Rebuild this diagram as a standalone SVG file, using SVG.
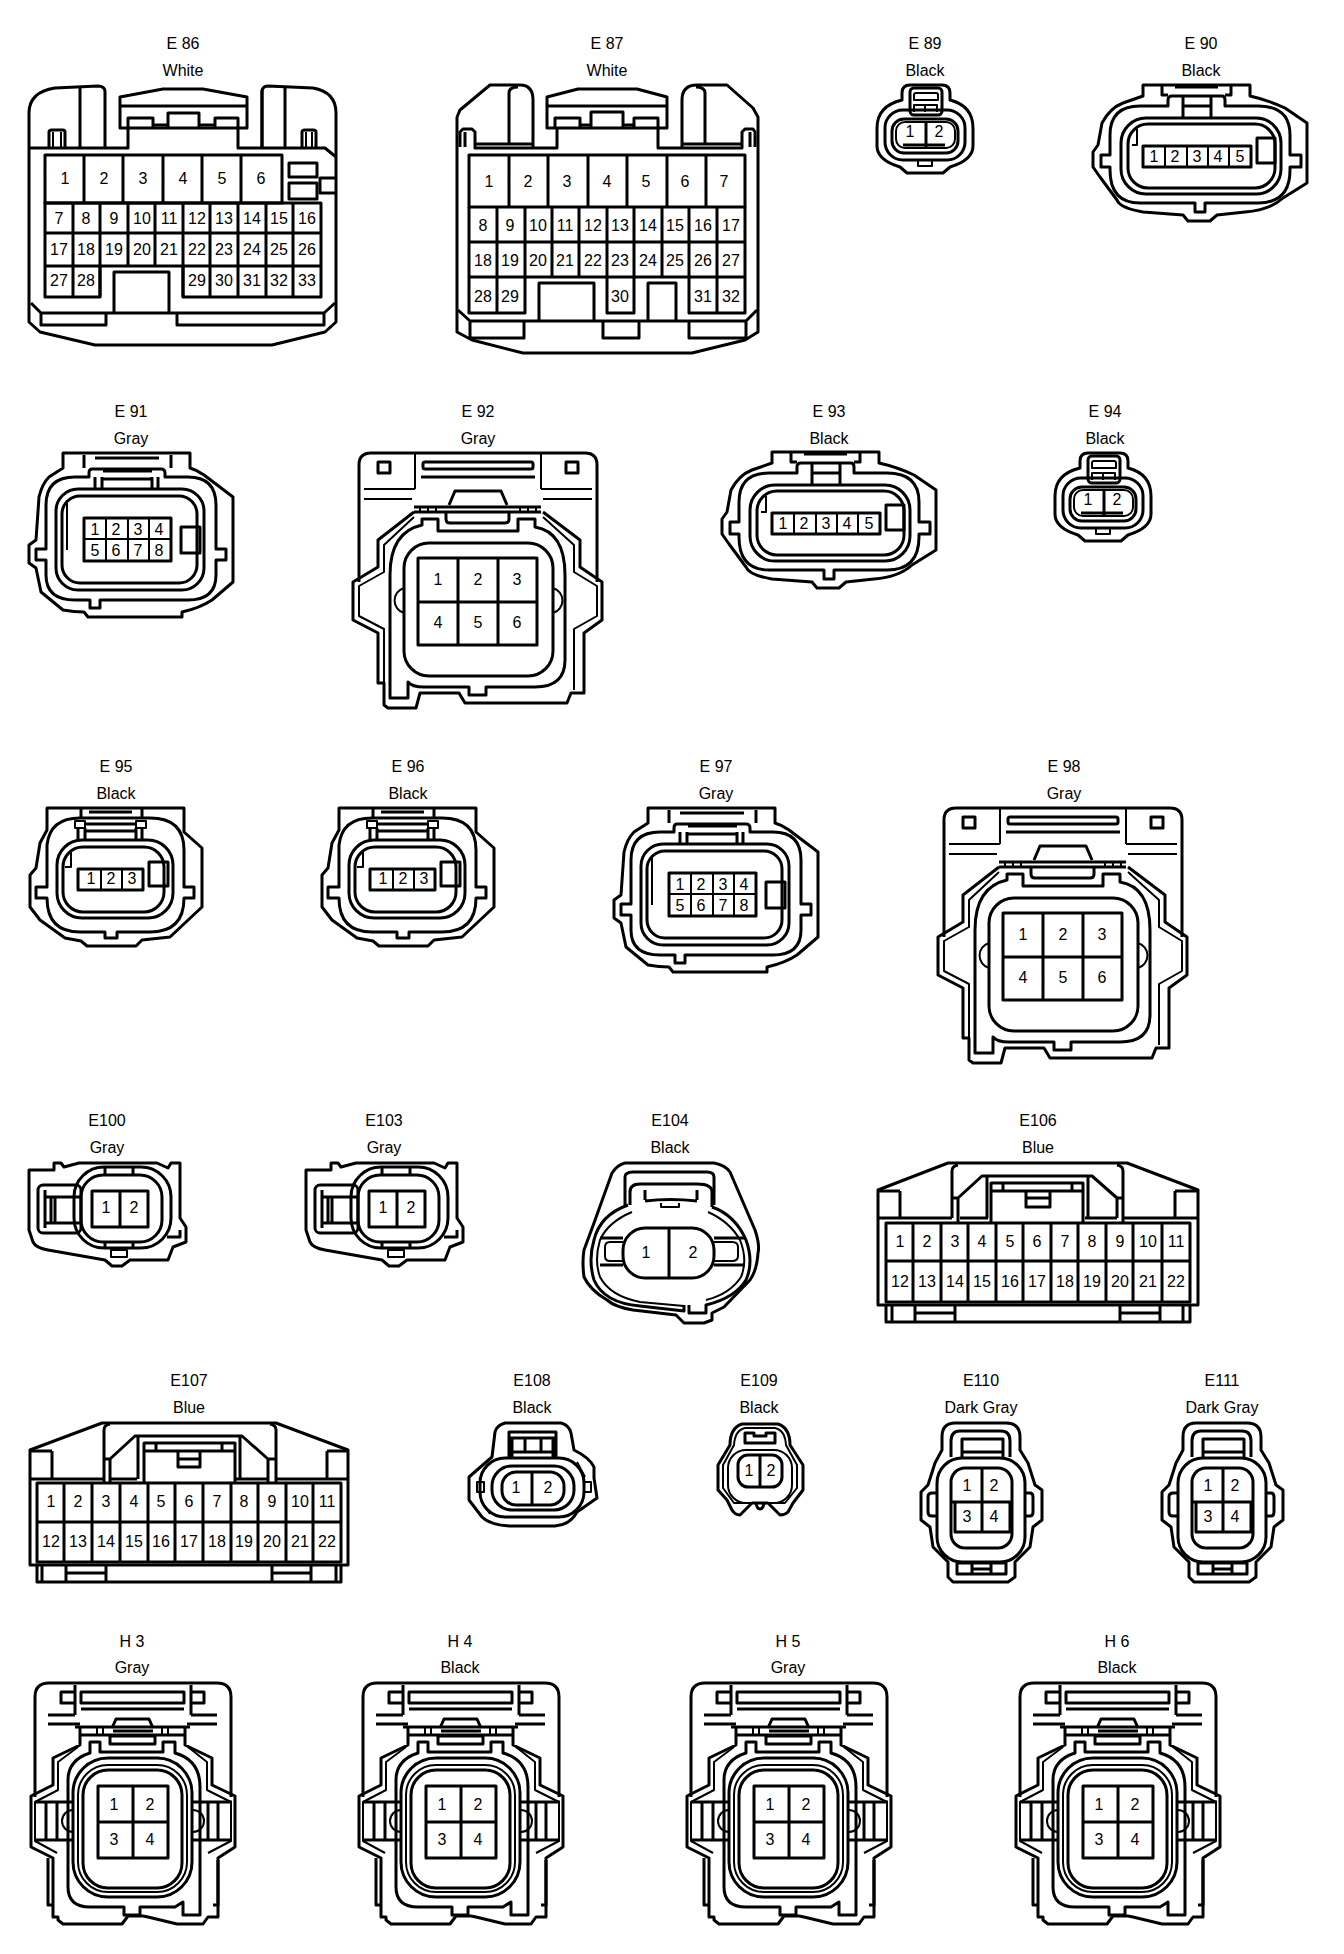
<svg xmlns="http://www.w3.org/2000/svg" width="1344" height="1954" viewBox="0 0 1344 1954">
<style>
path,rect,circle{fill:none;stroke:#000;stroke-width:3;stroke-linejoin:round}
.n{stroke-width:2}
text{font-family:"Liberation Sans",Arial,sans-serif;font-size:16px;fill:#000;text-anchor:middle}
#bg{fill:#fff;stroke:none}
</style>
<defs>
<g id="s89">
<path d="M902,100V93Q902,85 910,85H942Q950,85 950,93V100Q973,106 973,128V146Q973,160 950,167L943,173H907L900,167Q877,160 877,146V128Q877,106 902,100Z"/>
<rect x="885" y="110" width="80" height="50" rx="18"/>
<rect x="892" y="119" width="66" height="34" rx="12"/>
<rect class="n" x="896" y="122" width="59" height="26" rx="9"/>
<path d="M903,145H945" />
<path d="M926,122V148"/>
<rect x="910" y="88" width="32" height="27" rx="4"/>
<path class="n" d="M914,100V95Q914,93 916,93H936Q938,93 938,95V100ZM914,112V105H925V112M937,112V105H925"/>
<path class="n" d="M918,160V166H932V160"/>
</g>
<g id="s90">
<path d="M1143,96V85H1250V96Q1268,100 1285,108L1307,123V183L1283,198Q1270,210 1245,212L1217,215L1210,221H1188L1183,215L1143,212Q1120,208 1117,200L1100,177L1093,167V152L1098,145L1102,123Q1110,108 1123,103L1143,96Z"/>
<path d="M1162,85V95H1168M1231,85V95H1225"/>
<path d="M1175,87H1218"/>
<path d="M1110,135Q1110,106 1140,106H1168V100Q1168,96 1172,96H1222Q1225,96 1225,100V106H1258Q1290,106 1290,135V155H1301V167H1290V170Q1290,203 1258,203H1205V212H1195V203H1140Q1110,203 1110,170V167H1101V155H1110Z"/>
<rect x="1121" y="118" width="160" height="76" rx="25"/>
<rect x="1128" y="124" width="147" height="64" rx="20"/>
<path d="M1183,96V117M1211,96V117M1183,106H1211"/>
<path class="n" d="M1132,145H1137V129"/>
<rect x="1257" y="138" width="18" height="25"/>
<rect x="1143" y="146" width="108" height="21"/>
<path class="n" d="M1165,146V167M1187,146V167M1208,146V167M1229,146V167"/>
</g>
<g id="s91">
<path d="M63,468V453H190V468Q197,470 204,475L233,497V582L212,600Q200,608 182,612V617H88L84,612Q74,612 63,610L41,592L36,568L29,563V545L36,540L39,497Q42,484 49,477Z"/>
<path d="M84,455V468M171,455V468M95,458H159"/>
<path d="M46,505Q46,477 75,477H89V473Q89,469 92,469H161Q165,469 165,473V477H188Q216,477 216,505V549H226V560H216V575Q216,600 188,600H100V608H90V600H75Q46,600 46,575V560H36V549H46Z"/>
<rect x="56" y="489" width="148" height="101" rx="22"/>
<rect x="62" y="496" width="135" height="87" rx="18"/>
<path class="n" d="M67,500V550"/>
<path d="M95,477V488M102,477V488M152,477V488M158,477V488M103,471H152M103,479H152"/>
<rect x="181" y="527" width="19" height="26"/>
<rect x="84" y="518" width="87" height="43"/>
<path class="n" d="M106,518V561M128,518V561M149,518V561M84,539H171"/>
</g>
<g id="s92">
<path d="M359,582V465Q359,453 371,453H585Q597,453 597,465V582"/>
<path class="n" d="M415,453V489M541,453V489M364,489H415M541,489H592M364,499H412M543,499H592"/>
<rect x="378" y="462" width="12" height="11"/>
<rect x="566" y="462" width="12" height="11"/>
<rect x="423" y="462" width="110" height="7" rx="2"/>
<path d="M421,477H535"/>
<path d="M449,505L455,491H501L507,505"/>
<path d="M414,507H541M414,512H541"/>
<path class="n" d="M420,507V512M428,507V512M436,507V512M520,507V512M528,507V512M536,507V512"/>
<path d="M446,512V519Q446,523 450,523H505Q509,523 509,519V512"/>
<path d="M414,512L378,540V567L353,582V620L378,633V683H384V705L388,708H416L420,693H459L465,703H567L571,693H584V633L602,620V582L580,567V540L543,512"/>
<path class="n" d="M414,517L384,545V572L359,586V616L384,629V690M543,517L574,545V572L597,586V616L574,629V690"/>
<path d="M422,525V519H438V531H518V519H535V527Q565,532 565,575V660Q565,687 535,687H486V695H469V687H424Q412,687 408,682V698H390V575Q390,532 422,525Z"/>
<rect x="404" y="543" width="149" height="133" rx="25"/>
<path class="n" d="M404,588A13,13 0 0 0 404,613M553,588A13,13 0 0 1 553,613"/>
<rect x="418" y="558" width="119" height="87"/>
<path d="M458,558V645M498,558V645M418,602H537"/>
</g>
<g id="s95">
<path d="M47,830V808H184V832L202,848V907L186,922L170,937L142,940L136,946H87L81,941L65,938L40,920L30,907V875L36,868L40,843Z"/>
<path d="M47,845Q50,818 80,818H150Q184,818 184,850V887H194V898H184Q184,932 150,932H117V938H105V932H80Q47,932 47,898H36V887H47Z"/>
<rect x="57" y="840" width="116" height="78" rx="25"/>
<rect x="63" y="847" width="101" height="65" rx="20"/>
<path d="M81,808V818M142,808V818M78,828V839M85,828V839M136,828V839M142,828V839M86,824H136M86,831H136M89,812H132"/>
<rect class="n" x="75" y="821" width="10" height="7"/>
<rect class="n" x="136" y="821" width="10" height="7"/>
<path class="n" d="M65,867H71V852"/>
<rect x="149" y="862" width="19" height="24"/>
<rect x="78" y="869" width="65" height="21"/>
<path class="n" d="M101,869V890M122,869V890"/>
</g>
<g id="s100">
<path d="M29,1170H54V1163H61L64,1167L79,1163H157L168,1168L171,1163H180V1218L186,1227V1242L173,1247L168,1260H130L122,1266H112L105,1260L48,1250Q36,1248 33,1242L29,1230Z"/>
<rect x="74" y="1167" width="97" height="81" rx="30"/>
<rect x="81" y="1175" width="81" height="67" rx="22"/>
<rect x="38" y="1185" width="43" height="48" rx="5"/>
<path d="M45,1190V1228M51,1197V1223M45,1197H80M45,1223H80"/>
<path d="M55,1197V1222M105,1168V1175M133,1168V1175M105,1242V1247M133,1242V1247"/>
<rect class="n" x="111" y="1250" width="16" height="7"/>
<path d="M167,1237H180V1230"/>
<rect x="92" y="1191" width="56" height="36"/>
<path d="M120,1191V1227"/>
</g>
<g id="s110">
<path d="M942,1450V1437Q942,1423 955,1423H1006Q1020,1423 1020,1437V1450L1028,1463L1035,1485L1042,1490V1520L1033,1527L1030,1547L1015,1562V1577L1008,1582H953L948,1577V1562L933,1547L930,1527L921,1520V1492L928,1485L935,1463Z"/>
<rect x="937" y="1458" width="88" height="104" rx="25"/>
<rect x="951" y="1468" width="61" height="80" rx="14"/>
<path d="M951,1457V1441Q951,1431 960,1431H1001Q1010,1431 1010,1441V1457"/>
<path d="M951,1502H1012M955,1502V1532H1010V1502M982,1468V1532"/>
<path d="M962,1457V1439H1003V1457M962,1452H1003"/>
<path d="M936,1493H932Q928,1493 928,1497V1512Q928,1516 932,1516H936M1026,1493H1030Q1033,1493 1033,1497V1512Q1033,1516 1030,1516H1026"/>
<rect x="957" y="1563" width="49" height="11"/>
<path d="M972,1563V1574M991,1563V1574M972,1569H991"/>
</g>
<g id="sh3">
<path d="M35,1797V1697Q35,1683 49,1683H217Q231,1683 231,1697V1797"/>
<path d="M75,1685V1715M191,1685V1715M48,1715H75M191,1715H217M48,1724H80M187,1724H217"/>
<path d="M75,1692H61V1703H75M191,1692H204V1703H191"/>
<rect x="81" y="1692" width="103" height="11"/>
<path d="M81,1709H184"/>
<path d="M112,1728L116,1719H149L153,1728"/>
<path d="M75,1727H190M113,1731H153"/>
<rect x="110" y="1736" width="45" height="8"/>
<path class="n" d="M97,1727V1735M103,1727V1735M162,1727V1735M168,1727V1735"/>
<path d="M80,1735H185"/>
<path d="M80,1727V1745L53,1758V1785L31,1796V1847L53,1858V1917H58V1920L63,1924H122L128,1916H143L148,1917L177,1924H203L208,1917H218V1858L235,1847V1796L212,1785V1758L185,1745V1727"/>
<path class="n" d="M78,1747L58,1762V1790L35,1802V1841L57,1853M188,1747L207,1762V1790L231,1802V1841L208,1853"/>
<path d="M35,1802H73M193,1802H232M35,1840H73M193,1840H232M46,1802V1840M57,1802V1840M208,1802V1840M218,1802V1840M48,1858V1905H53M218,1860V1905H213"/>
<path d="M90,1753V1742H100V1752H163V1742H175V1753Q200,1760 200,1787V1915H183V1902L175,1907H140V1915H124V1907H90Q68,1907 68,1887V1780Q68,1760 90,1753Z"/>
<rect x="73" y="1758" width="119" height="139" rx="35"/>
<rect class="n" x="78" y="1765" width="109" height="127" rx="30"/>
<rect x="83" y="1770" width="99" height="118" rx="25"/>
<rect x="98" y="1786" width="70" height="72"/>
<path d="M133,1786V1858M98,1822H168"/>
<path class="n" d="M73,1810A11,11 0 0 0 73,1832M193,1810A11,11 0 0 1 193,1832"/>
</g>
</defs>
<rect id="bg" x="0" y="0" width="1344" height="1954"/>
<g id="e86">
<text x="183" y="49">E 86</text><text x="183" y="76">White</text>
<path d="M29,113V322L40,332L95,345H272L325,332L336,322V113Q336,92 313,88L268,86Q262,86 262,92V148M29,113Q29,92 55,88L98,86Q105,86 105,92V148"/>
<path d="M29,148H128V128M80,86V148M49,148V132Q49,130 52,130H63Q65,130 65,132V148"/>
<path class="n" d="M53,132V148M61,132V148M306,132V148M312,132V148"/>
<path d="M238,128V148H325L336,157M262,90V148M285,86V148M302,148V132Q302,130 305,130H313Q316,130 316,132V148"/>
<path d="M120,128V97L163,89H203L247,97V128ZM120,106H247"/>
<path d="M128,128V118H153V128M168,128V113H199V128M215,128V118H238V128M153,125H168M199,125H215"/>
<rect x="45" y="155" width="237" height="48"/>
<path d="M84,155V203M123,155V203M163,155V203M202,155V203M241,155V203"/>
<text x="65" y="184">1</text><text x="104" y="184">2</text><text x="143" y="184">3</text><text x="183" y="184">4</text><text x="222" y="184">5</text><text x="261" y="184">6</text>
<path d="M45,203H321V297H183V266H100V297H45ZM45,233H321M45,266H100M183,266H321"/>
<path d="M73,203V297M100,203V297M128,203V266M155,203V266M183,203V297M210,203V297M238,203V297M266,203V297M293,203V297"/>
<text x="59" y="224">7</text><text x="86" y="224">8</text><text x="114" y="224">9</text><text x="142" y="224">10</text><text x="169" y="224">11</text><text x="197" y="224">12</text><text x="224" y="224">13</text><text x="252" y="224">14</text><text x="279" y="224">15</text><text x="307" y="224">16</text>
<text x="59" y="255">17</text><text x="86" y="255">18</text><text x="114" y="255">19</text><text x="142" y="255">20</text><text x="169" y="255">21</text><text x="197" y="255">22</text><text x="224" y="255">23</text><text x="252" y="255">24</text><text x="279" y="255">25</text><text x="307" y="255">26</text>
<text x="59" y="286">27</text><text x="86" y="286">28</text><text x="197" y="286">29</text><text x="224" y="286">30</text><text x="252" y="286">31</text><text x="279" y="286">32</text><text x="307" y="286">33</text>
<path d="M114,313V272H169V313"/>
<path d="M31,303L41,313H324L335,303M41,313V325H106V313M177,313V325H324V313"/>
<rect x="289" y="163" width="28" height="14"/><rect x="289" y="183" width="28" height="16"/>
<path d="M336,178H320V193H336"/>
</g>
<g id="e87">
<text x="607" y="49">E 87</text><text x="607" y="76">White</text>
<path d="M457,117V332L472,340L523,353H692L745,340L758,332V117L753,108L727,85H697Q682,85 682,100V148M457,117L460,110L490,85H520Q533,85 533,100V148"/>
<path d="M460,147V132L463,129H472L475,132V148H557V128M465,132V147M658,128V148H742V132L745,129H753L755,132V147M750,132V147"/>
<path d="M475,144H533M682,144H742M509,144V93Q509,87 518,87M705,144V93Q705,87 696,87"/>
<path d="M547,128V97L578,89H637L667,97V128ZM547,106H667"/>
<path d="M555,128V118H580V128M591,128V112H623V128M634,128V118H658V128M580,125H591M623,125H634"/>
<rect x="469" y="155" width="276" height="52"/>
<path d="M509,155V207M548,155V207M588,155V207M627,155V207M667,155V207M706,155V207"/>
<text x="489" y="187">1</text><text x="528" y="187">2</text><text x="567" y="187">3</text><text x="607" y="187">4</text><text x="646" y="187">5</text><text x="685" y="187">6</text><text x="724" y="187">7</text>
<path d="M469,207V313H525V277H607V313H634V277H689V313H745V207M469,242H745M469,277H745M497,207V313M717,207V313M525,207V277M552,207V277M579,207V277M607,207V277M634,207V277M662,207V277M689,207V277"/>
<text x="483" y="231">8</text><text x="510" y="231">9</text><text x="538" y="231">10</text><text x="565" y="231">11</text><text x="593" y="231">12</text><text x="620" y="231">13</text><text x="648" y="231">14</text><text x="675" y="231">15</text><text x="703" y="231">16</text><text x="731" y="231">17</text>
<text x="483" y="266">18</text><text x="510" y="266">19</text><text x="538" y="266">20</text><text x="565" y="266">21</text><text x="593" y="266">22</text><text x="620" y="266">23</text><text x="648" y="266">24</text><text x="675" y="266">25</text><text x="703" y="266">26</text><text x="731" y="266">27</text>
<text x="483" y="302">28</text><text x="510" y="302">29</text><text x="620" y="302">30</text><text x="703" y="302">31</text><text x="731" y="302">32</text>
<path d="M539,320V283H594V320M648,320V283H676V320"/>
<path d="M458,310L470,321H746L757,310M470,321V338H524V321M603,321V338H639V321M689,321V338H746V321"/>
</g>
<g id="e89">
<text x="925" y="49">E 89</text><text x="925" y="76">Black</text>
<use href="#s89"/>
<text x="910" y="137">1</text><text x="939" y="137">2</text>
</g>
<g id="e90">
<text x="1201" y="49">E 90</text><text x="1201" y="76">Black</text>
<use href="#s90"/>
<text x="1154" y="162">1</text><text x="1175" y="162">2</text><text x="1197" y="162">3</text><text x="1218" y="162">4</text><text x="1240" y="162">5</text>
</g>
<g id="e91">
<text x="131" y="417">E 91</text><text x="131" y="444">Gray</text>
<use href="#s91"/>
<text x="95" y="535">1</text><text x="116" y="535">2</text><text x="138" y="535">3</text><text x="159" y="535">4</text><text x="95" y="556">5</text><text x="116" y="556">6</text><text x="138" y="556">7</text><text x="159" y="556">8</text>
</g>
<g id="e92">
<text x="478" y="417">E 92</text><text x="478" y="444">Gray</text>
<use href="#s92"/>
<text x="438" y="585">1</text><text x="478" y="585">2</text><text x="517" y="585">3</text><text x="438" y="628">4</text><text x="478" y="628">5</text><text x="517" y="628">6</text>
</g>
<g id="e93">
<text x="829" y="417">E 93</text><text x="829" y="444">Black</text>
<use href="#s90" x="-371" y="367"/>
<text x="783" y="529">1</text><text x="804" y="529">2</text><text x="826" y="529">3</text><text x="847" y="529">4</text><text x="869" y="529">5</text>
</g>
<g id="e94">
<text x="1105" y="417">E 94</text><text x="1105" y="444">Black</text>
<use href="#s89" x="178" y="368"/>
<text x="1088" y="505">1</text><text x="1117" y="505">2</text>
</g>
<g id="e95">
<text x="116" y="772">E 95</text><text x="116" y="799">Black</text>
<use href="#s95"/>
<text x="91" y="884">1</text><text x="111" y="884">2</text><text x="132" y="884">3</text>
</g>
<g id="e96">
<text x="408" y="772">E 96</text><text x="408" y="799">Black</text>
<use href="#s95" x="292"/>
<text x="383" y="884">1</text><text x="403" y="884">2</text><text x="424" y="884">3</text>
</g>
<g id="e97">
<text x="716" y="772">E 97</text><text x="716" y="799">Gray</text>
<use href="#s91" x="585" y="355"/>
<text x="680" y="890">1</text><text x="701" y="890">2</text><text x="723" y="890">3</text><text x="744" y="890">4</text><text x="680" y="911">5</text><text x="701" y="911">6</text><text x="723" y="911">7</text><text x="744" y="911">8</text>
</g>
<g id="e98">
<text x="1064" y="772">E 98</text><text x="1064" y="799">Gray</text>
<use href="#s92" x="585" y="355"/>
<text x="1023" y="940">1</text><text x="1063" y="940">2</text><text x="1102" y="940">3</text><text x="1023" y="983">4</text><text x="1063" y="983">5</text><text x="1102" y="983">6</text>
</g>
<g id="e100">
<text x="107" y="1126">E100</text><text x="107" y="1153">Gray</text>
<use href="#s100"/>
<text x="106" y="1213">1</text><text x="134" y="1213">2</text>
</g>
<g id="e103">
<text x="384" y="1126">E103</text><text x="384" y="1153">Gray</text>
<use href="#s100" x="277"/>
<text x="383" y="1213">1</text><text x="411" y="1213">2</text>
</g>
<g id="e104">
<text x="670" y="1126">E104</text><text x="670" y="1153">Black</text>
<path d="M625,1163H714Q725,1165 730,1172L755,1230Q760,1245 758,1253Q757,1270 750,1280L724,1307L712,1313V1320L704,1323H684L676,1315L633,1310Q615,1307 607,1300Q590,1290 584,1277Q582,1262 584,1250L594,1223L612,1173Q617,1165 625,1163Z"/>
<path d="M625,1205V1177Q625,1172 633,1172H707Q714,1172 714,1177V1205"/>
<path d="M630,1205V1192Q630,1184 640,1184H697Q712,1184 712,1192V1207"/>
<path d="M645,1200V1190M697,1200V1190M645,1201Q670,1198 697,1201"/>
<path d="M628,1205Q600,1215 594,1240Q588,1260 594,1280Q604,1303 640,1306L684,1311V1305M712,1207Q735,1215 746,1240Q754,1262 746,1280Q735,1298 706,1305V1313H689V1305"/>
<path class="n" d="M632,1212Q608,1222 600,1240Q594,1260 600,1277Q610,1296 640,1302L684,1306M708,1212Q730,1222 740,1240Q748,1260 741,1277Q730,1294 706,1300"/>
<rect x="623" y="1228" width="91" height="50" rx="22"/>
<path d="M669,1228V1278"/>
<path d="M600,1238H623M600,1265H623M714,1238H745M714,1265H745"/>
<path class="n" d="M623,1242H610Q605,1242 605,1247V1256Q605,1261 610,1261H623M714,1242H732Q738,1242 738,1247V1256Q738,1261 732,1261H714"/>
<path class="n" d="M661,1203V1207H679V1203"/>
<text x="646" y="1258">1</text><text x="693" y="1258">2</text>
</g>
<g id="e106">
<text x="1038" y="1126">E106</text><text x="1038" y="1153">Blue</text>
<path d="M878,1190L948,1163H1127L1198,1190V1305H878Z"/>
<path d="M878,1218H952M960,1218H988M1085,1218H1117M1123,1218H1198M900,1191V1218M878,1191H900M1175,1191V1218M1175,1191H1198"/>
<path d="M952,1218V1171Q952,1166 958,1165M1123,1222V1171Q1123,1166 1117,1165M958,1222V1198L982,1176H1092L1117,1198V1218M952,1198H958M1117,1198H1123M987,1176V1218M1088,1176V1218"/>
<path d="M991,1222V1183H1083V1222M991,1191H1083M1003,1183V1191M1072,1183V1191"/>
<path d="M1026,1191V1207H1050V1191M1026,1198H1050"/>
<rect x="886" y="1223" width="304" height="79"/>
<path d="M886,1261H1190M913,1223V1302M941,1223V1302M968,1223V1302M996,1223V1302M1023,1223V1302M1051,1223V1302M1078,1223V1302M1106,1223V1302M1133,1223V1302M1162,1223V1302"/>
<text x="900" y="1247">1</text><text x="927" y="1247">2</text><text x="955" y="1247">3</text><text x="982" y="1247">4</text><text x="1010" y="1247">5</text><text x="1037" y="1247">6</text><text x="1065" y="1247">7</text><text x="1092" y="1247">8</text><text x="1120" y="1247">9</text><text x="1148" y="1247">10</text><text x="1176" y="1247">11</text>
<text x="900" y="1287">12</text><text x="927" y="1287">13</text><text x="955" y="1287">14</text><text x="982" y="1287">15</text><text x="1010" y="1287">16</text><text x="1037" y="1287">17</text><text x="1065" y="1287">18</text><text x="1092" y="1287">19</text><text x="1120" y="1287">20</text><text x="1148" y="1287">21</text><text x="1176" y="1287">22</text>
<path d="M886,1305V1322H1190V1305M892,1305V1322M915,1305V1322M955,1305V1322M1120,1305V1322M1160,1305V1322M1183,1305V1322M915,1313H955M1120,1313H1160"/>
</g>
<g id="e107">
<text x="189" y="1386">E107</text><text x="189" y="1413">Blue</text>
<path d="M30,1450L102,1423H276L348,1450V1565H30Z"/>
<path d="M30,1479H105M111,1479H137M235,1479H268M276,1479H348M52,1451V1479M30,1451H52M327,1451V1479M327,1451H348"/>
<path d="M104,1482V1430Q104,1425 110,1424M276,1482V1430Q276,1425 270,1424M110,1482V1459L135,1436H242L268,1459V1482M104,1459H110M268,1459H276M138,1436V1479M240,1436V1479"/>
<path d="M144,1482V1443H235V1482M144,1451H235M156,1443V1451M222,1443V1451"/>
<path d="M178,1451V1467H200V1451M178,1459H200"/>
<rect x="37" y="1483" width="304" height="79"/>
<path d="M37,1522H341M64,1483V1562M92,1483V1562M120,1483V1562M148,1483V1562M175,1483V1562M203,1483V1562M231,1483V1562M258,1483V1562M286,1483V1562M313,1483V1562"/>
<text x="51" y="1507">1</text><text x="78" y="1507">2</text><text x="106" y="1507">3</text><text x="134" y="1507">4</text><text x="161" y="1507">5</text><text x="189" y="1507">6</text><text x="217" y="1507">7</text><text x="244" y="1507">8</text><text x="272" y="1507">9</text><text x="300" y="1507">10</text><text x="327" y="1507">11</text>
<text x="51" y="1547">12</text><text x="78" y="1547">13</text><text x="106" y="1547">14</text><text x="134" y="1547">15</text><text x="161" y="1547">16</text><text x="189" y="1547">17</text><text x="217" y="1547">18</text><text x="244" y="1547">19</text><text x="272" y="1547">20</text><text x="300" y="1547">21</text><text x="327" y="1547">22</text>
<path d="M37,1565V1582H341V1565M42,1565V1582M66,1565V1582M106,1565V1582M272,1565V1582M311,1565V1582M336,1565V1582M66,1573H106M272,1573H311"/>
</g>
<g id="e108">
<text x="532" y="1386">E108</text><text x="532" y="1413">Black</text>
<path d="M505,1423H561Q569,1425 571,1433L574,1450Q590,1458 594,1467V1478L597,1498L577,1512Q570,1525 555,1526H510Q490,1525 482,1517L469,1500V1477L492,1457L495,1432Q497,1425 505,1423Z"/>
<rect x="480" y="1458" width="104" height="59" rx="25"/>
<rect x="492" y="1466" width="82" height="44" rx="20"/>
<rect x="502" y="1472" width="62" height="33" rx="14"/>
<path d="M532,1472V1505"/>
<path d="M509,1458V1432H556V1458M509,1438H556M512,1438V1458M525,1438V1452M541,1438V1452M553,1438V1458M512,1452H553"/>
<rect class="n" x="477" y="1482" width="7" height="10"/>
<rect class="n" x="584" y="1482" width="7" height="10"/>
<path class="n" d="M577,1462L585,1477M482,1502L490,1514"/>
<text x="516" y="1493">1</text><text x="548" y="1493">2</text>
</g>
<g id="e109">
<text x="759" y="1386">E109</text><text x="759" y="1413">Black</text>
<path d="M742,1424H778Q790,1428 790,1445L803,1465V1490L793,1503L788,1512Q785,1515 780,1515L768,1503H752L740,1515Q735,1515 732,1510L727,1500L718,1490V1465L730,1445Q730,1428 742,1424Z"/>
<path class="n" d="M734,1445Q735,1430 745,1428H775Q785,1430 786,1445L797,1465V1488L785,1503L772,1503H748L734,1503L723,1488V1465Z"/>
<rect x="738" y="1455" width="44" height="32" rx="10"/>
<path d="M760,1455V1487"/>
<rect x="728" y="1450" width="64" height="53" rx="18" class="n"/>
<path d="M745,1443V1433H754V1436H766V1433H775V1443Z"/>
<path d="M756,1503Q757,1509 760,1509Q763,1509 764,1503"/>
<text x="749" y="1476">1</text><text x="771" y="1476">2</text>
</g>
<g id="e110">
<text x="981" y="1386">E110</text><text x="981" y="1413">Dark Gray</text>
<use href="#s110"/>
<text x="967" y="1491">1</text><text x="994" y="1491">2</text><text x="967" y="1522">3</text><text x="994" y="1522">4</text>
</g>
<g id="e111">
<text x="1222" y="1386">E111</text><text x="1222" y="1413">Dark Gray</text>
<use href="#s110" x="241"/>
<text x="1208" y="1491">1</text><text x="1235" y="1491">2</text><text x="1208" y="1522">3</text><text x="1235" y="1522">4</text>
</g>
<g id="h3">
<text x="132" y="1647">H 3</text><text x="132" y="1673">Gray</text>
<use href="#sh3"/>
<text x="114" y="1810">1</text><text x="150" y="1810">2</text><text x="114" y="1845">3</text><text x="150" y="1845">4</text>
</g>
<g id="h4">
<text x="460" y="1647">H 4</text><text x="460" y="1673">Black</text>
<use href="#sh3" x="328"/>
<text x="442" y="1810">1</text><text x="478" y="1810">2</text><text x="442" y="1845">3</text><text x="478" y="1845">4</text>
</g>
<g id="h5">
<text x="788" y="1647">H 5</text><text x="788" y="1673">Gray</text>
<use href="#sh3" x="656"/>
<text x="770" y="1810">1</text><text x="806" y="1810">2</text><text x="770" y="1845">3</text><text x="806" y="1845">4</text>
</g>
<g id="h6">
<text x="1117" y="1647">H 6</text><text x="1117" y="1673">Black</text>
<use href="#sh3" x="985"/>
<text x="1099" y="1810">1</text><text x="1135" y="1810">2</text><text x="1099" y="1845">3</text><text x="1135" y="1845">4</text>
</g>
</svg>
